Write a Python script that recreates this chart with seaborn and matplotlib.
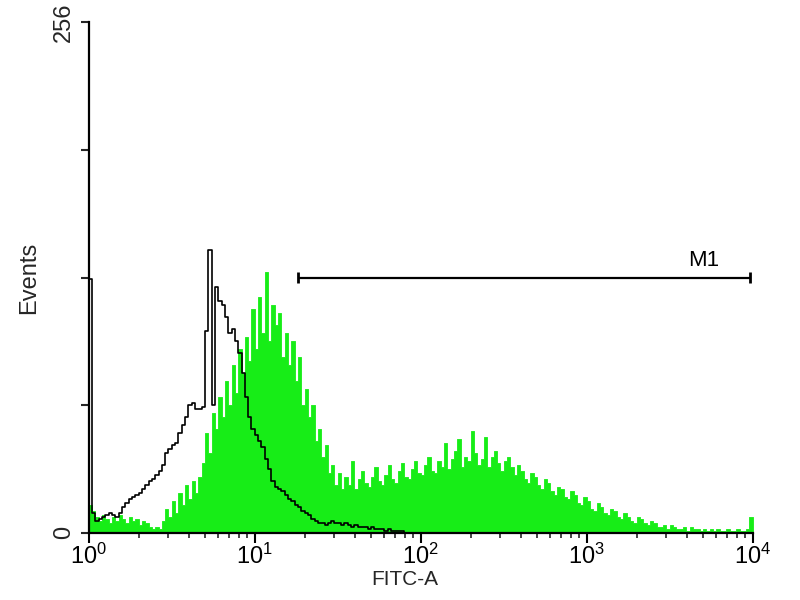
import numpy as np
import pandas as pd
import matplotlib
matplotlib.use("Agg")
import matplotlib.pyplot as plt
import seaborn as sns
from matplotlib.ticker import FixedLocator, LogLocator, NullFormatter

# ---------------- data ----------------
# 200 channels spread over 4 decades of FITC-A (log10 0 .. 4), width 0.02 decade
channel_log_width = 0.02
channel_log_range = (0.0, 4.0)

# Stained sample (green filled histogram), events per channel
green_events = [
    14, 11, 8, 6, 9, 7, 5, 8, 6, 9,
    7, 5, 8, 6, 7, 4, 6, 5, 3, 2,
    3, 2, 6, 12, 8, 16, 10, 20, 14, 24,
    17, 26, 20, 28, 35, 50, 40, 60, 52, 68,
    58, 76, 64, 84, 70, 92, 80, 98, 86, 112,
    92, 118, 100, 131, 96, 114, 104, 110, 88, 100,
    84, 96, 76, 88, 64, 72, 58, 64, 46, 52,
    38, 44, 30, 34, 24, 30, 22, 28, 24, 36,
    22, 27, 31, 25, 23, 28, 33, 26, 24, 29,
    34, 27, 25, 31, 35, 28, 27, 32, 36, 30,
    29, 34, 38, 31, 30, 36, 33, 45, 32, 37,
    41, 47, 33, 38, 36, 51, 40, 34, 37, 48,
    33, 38, 41, 35, 31, 36, 38, 33, 29, 34,
    31, 27, 25, 30, 28, 24, 22, 27, 25, 21,
    19, 23, 22, 18, 17, 21, 19, 15, 14, 18,
    16, 12, 11, 15, 13, 10, 9, 12, 11, 8,
    7, 10, 8, 6, 5, 8, 7, 5, 4, 6,
    5, 3, 3, 4, 2, 4, 3, 2, 2, 3,
    1, 3, 2, 2, 1, 2, 1, 2, 1, 2,
    1, 1, 2, 1, 1, 2, 1, 1, 2, 8,
]

# Isotype / unstained control (black outline histogram)
black_events = [
    127, 10, 6, 7, 8, 9, 10, 9, 8, 10,
    13, 15, 17, 18, 19, 20, 22, 24, 26, 27,
    29, 31, 34, 40, 42, 44, 45, 50, 54, 58,
    64, 65, 62, 62, 63, 101, 142, 64, 123, 116,
    114, 108, 100, 102, 96, 90, 80, 68, 58, 52,
    49, 46, 43, 37, 32, 26, 23, 22, 21, 19,
    17, 16, 14, 13, 11, 10, 9, 7, 6, 5,
    5, 4, 5, 6, 5, 5, 4, 5, 4, 3,
    4, 3, 3, 3, 2, 3, 2, 2, 2, 1,
    2, 1, 1, 1, 1,
] + [0] * 105

# M1 gate marker
gate_range = (18.2, 9560.0)
gate_level = 128
gate_label = "M1"
gate_label_pos = (6300.0, 134.0)

x_ticks = [1, 10, 100, 1000, 10000]
x_ticklabels = [r"$10^{0}$", r"$10^{1}$", r"$10^{2}$", r"$10^{3}$", r"$10^{4}$"]
y_ticks = [0, 64, 128, 192, 256]
y_ticklabels = ["0", "", "", "", "256"]
x_label = "FITC-A"
y_label = "Events"

GREEN = "#17ED17"

# ---------------- plotting ----------------
sns.set_style("ticks")
plt.rcParams["font.family"] = ["Liberation Sans", "DejaVu Sans"]
plt.rcParams["mathtext.fontset"] = "custom"
plt.rcParams["mathtext.rm"] = "Liberation Sans"
plt.rcParams["mathtext.it"] = "Liberation Sans:italic"
plt.rcParams["mathtext.bf"] = "Liberation Sans:bold"

n_ch = len(green_events)
centers = 10 ** (channel_log_range[0] + channel_log_width * (np.arange(n_ch) + 0.5))
df = pd.DataFrame({"fitc": centers, "green": green_events, "black": black_events})

fig = plt.figure(figsize=(8, 6), dpi=100)
ax = fig.add_axes([0.111, 0.112, 0.830, 0.851])

sns.histplot(data=df, x="fitc", weights="green", binwidth=channel_log_width,
             binrange=channel_log_range, log_scale=True, element="step",
             fill=True, color=GREEN, alpha=1.0, linewidth=0.6, ax=ax)
sns.histplot(data=df, x="fitc", weights="black", binwidth=channel_log_width,
             binrange=channel_log_range, log_scale=True, element="step",
             fill=False, color="black", linewidth=1.2, ax=ax)

ax.set_xlim(1, 10000)
ax.set_ylim(0, 256)

ax.xaxis.set_major_locator(FixedLocator(x_ticks))
ax.set_xticklabels(x_ticklabels, fontsize=17)
ax.xaxis.set_minor_locator(LogLocator(base=10, subs=np.arange(2, 10)))
ax.xaxis.set_minor_formatter(NullFormatter())
ax.tick_params(axis="x", which="major", length=7, width=1.5, direction="out", pad=1, colors="black")
ax.tick_params(axis="x", which="minor", length=3.5, width=1.2, direction="out")

ax.set_yticks(y_ticks)
ax.set_yticklabels(y_ticklabels, rotation=90, va="center", fontsize=17)
ax.tick_params(axis="y", which="major", length=6, width=1.5, direction="out", pad=4)

for side in ["left", "bottom"]:
    ax.spines[side].set_linewidth(1.6)
    ax.spines[side].set_color("black")
sns.despine(ax=ax)

ax.set_xlabel(x_label, fontsize=15)
ax.set_ylabel(y_label, fontsize=17)
ax.xaxis.set_label_coords(0.476, -0.072)
ax.yaxis.set_label_coords(-0.074, 0.5)

# gate marker
ax.hlines(gate_level, gate_range[0], gate_range[1], color="black", linewidth=1.6)
ax.vlines(list(gate_range), gate_level - 2.8, gate_level + 2.8, color="black", linewidth=2.0)
ax.text(gate_label_pos[0], gate_label_pos[1], gate_label, ha="right", va="baseline",
        fontsize=16, color="black")

fig.savefig("out.png", dpi=100)
